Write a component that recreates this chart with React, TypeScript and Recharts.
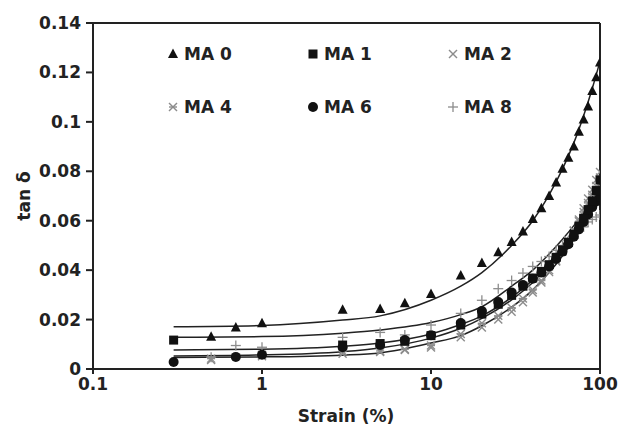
import React from "react";
import {
  ScatterChart,
  Scatter,
  XAxis,
  YAxis,
  ReferenceLine,
} from "recharts";

// measured points (strain %, tan delta)
const ma0Strain = [0.5, 0.7, 1, 3, 5, 7, 10, 15, 20, 25, 30, 35, 40, 45, 50, 55, 60, 65, 70, 75, 80, 85, 90, 95, 100];
const ma0Tan = [0.013, 0.0168, 0.0185, 0.024, 0.0243, 0.0266, 0.0303, 0.0378, 0.0429, 0.0472, 0.0514, 0.0556, 0.0607, 0.065, 0.07, 0.0755, 0.081, 0.0855, 0.09, 0.096, 0.101, 0.1062, 0.1125, 0.118, 0.124];

const ma1Strain = [0.3, 3, 5, 7, 10, 15, 20, 25, 30, 35, 40, 45, 50, 55, 60, 65, 70, 75, 80, 85, 90, 95, 100];
const ma1Tan = [0.0117, 0.0097, 0.0103, 0.0112, 0.0135, 0.0178, 0.0222, 0.0262, 0.0298, 0.0335, 0.0368, 0.0395, 0.0422, 0.0452, 0.0482, 0.0512, 0.0545, 0.0578, 0.061, 0.0645, 0.068, 0.0722, 0.0765];

const ma2Strain = [0.5, 1, 3, 5, 7, 10, 15, 20, 25, 30, 35, 40, 45, 50, 55, 60, 65, 70, 75, 80, 85, 90, 95, 100];
const ma2Tan = [0.0036, 0.0052, 0.0062, 0.0069, 0.0077, 0.0087, 0.0128, 0.0168, 0.02, 0.0232, 0.027, 0.031, 0.035, 0.0392, 0.0435, 0.0475, 0.052, 0.056, 0.0605, 0.065, 0.069, 0.0725, 0.0765, 0.0797];

const ma4Strain = [0.5, 1, 3, 5, 7, 10, 15, 20, 25, 30, 35, 40, 45, 50, 55, 60, 65, 70, 75, 80, 85, 90, 95, 100];
const ma4Tan = [0.0042, 0.0058, 0.0072, 0.0073, 0.008, 0.0095, 0.0142, 0.0185, 0.0215, 0.0248, 0.0285, 0.032, 0.0358, 0.04, 0.0438, 0.048, 0.052, 0.0558, 0.0598, 0.0635, 0.0672, 0.0705, 0.074, 0.0775];

const ma6Strain = [0.3, 0.7, 1, 3, 5, 7, 10, 15, 20, 25, 30, 35, 40, 45, 50, 55, 60, 65, 70, 75, 80, 85, 90, 95, 100];
const ma6Tan = [0.0028, 0.0049, 0.0058, 0.0088, 0.0097, 0.0117, 0.0137, 0.0186, 0.0235, 0.0271, 0.031, 0.034, 0.0365, 0.039, 0.0415, 0.0445, 0.0475, 0.0505, 0.0535, 0.0565, 0.0595, 0.0625, 0.0655, 0.0678, 0.0696];

const ma8Strain = [0.5, 0.7, 1, 3, 5, 7, 10, 15, 20, 25, 30, 35, 40, 45, 50, 55, 60, 65, 70, 75, 80, 85, 90, 95, 100];
const ma8Tan = [0.0048, 0.0095, 0.0088, 0.0128, 0.0148, 0.0138, 0.0178, 0.0225, 0.0278, 0.0325, 0.0358, 0.0388, 0.0415, 0.0435, 0.0455, 0.048, 0.05, 0.052, 0.0545, 0.0565, 0.0575, 0.0595, 0.0605, 0.0615, 0.0623];

// fitted curves
const fitStrain = [0.3, 1, 3, 5, 10, 15, 20, 30, 40, 50, 60, 70, 80, 90, 100];
const fit0 = [0.0171, 0.0176, 0.0198, 0.0215, 0.0278, 0.0335, 0.039, 0.05, 0.06, 0.0705, 0.081, 0.0915, 0.1025, 0.1135, 0.1245];
const fitA = [0.0128, 0.0131, 0.0145, 0.0158, 0.0188, 0.022, 0.0252, 0.0335, 0.04, 0.0465, 0.0525, 0.058, 0.0632, 0.068, 0.0725];
const fitB = [0.0077, 0.008, 0.0092, 0.0105, 0.0142, 0.018, 0.0215, 0.029, 0.036, 0.043, 0.05, 0.0565, 0.063, 0.0695, 0.076];
const fitC = [0.0053, 0.0057, 0.007, 0.0085, 0.0125, 0.0165, 0.0205, 0.028, 0.035, 0.042, 0.049, 0.0555, 0.062, 0.0685, 0.075];
const fitD = [0.0047, 0.0049, 0.0056, 0.0065, 0.0105, 0.0135, 0.0175, 0.025, 0.032, 0.039, 0.0458, 0.0525, 0.059, 0.0655, 0.0715];

const xTicks = [0.1, 1, 10, 100];
const yTicks = [0, 0.02, 0.04, 0.06, 0.08, 0.1, 0.12, 0.14];

const zip = (xs: number[], ys: number[]) => xs.map((x, i) => ({ x, y: ys[i] }));

const FONT = "'DejaVu Sans', Arial, sans-serif";
const INK = "#222";
const GRAY = "#8c8c8c";

const Tri = ({ cx, cy }: any) => (
  <polygon points={`${cx},${cy - 5.5} ${cx - 5},${cy + 4} ${cx + 5},${cy + 4}`} fill="#111" />
);
const Sq = ({ cx, cy }: any) => <rect x={cx - 4.5} y={cy - 4.5} width={9} height={9} fill="#111" />;
const Dot = ({ cx, cy }: any) => <circle cx={cx} cy={cy} r={5} fill="#111" />;
const Cross = ({ cx, cy }: any) => (
  <g stroke={GRAY} strokeWidth={1.4}>
    <line x1={cx - 4} y1={cy - 4} x2={cx + 4} y2={cy + 4} />
    <line x1={cx - 4} y1={cy + 4} x2={cx + 4} y2={cy - 4} />
  </g>
);
const Star = ({ cx, cy }: any) => (
  <g stroke={GRAY} strokeWidth={1.4}>
    <line x1={cx - 4} y1={cy - 4} x2={cx + 4} y2={cy + 4} />
    <line x1={cx - 4} y1={cy + 4} x2={cx + 4} y2={cy - 4} />
    <line x1={cx - 4} y1={cy} x2={cx + 4} y2={cy} />
  </g>
);
const Plus = ({ cx, cy }: any) => (
  <g stroke={GRAY} strokeWidth={1.3}>
    <line x1={cx - 5} y1={cy} x2={cx + 5} y2={cy} />
    <line x1={cx} y1={cy - 5} x2={cx} y2={cy + 5} />
  </g>
);
const NoDot = () => <g />;

const legendItems = [
  { name: "MA 0", Icon: Tri, x: 173, y: 54 },
  { name: "MA 1", Icon: Sq, x: 313, y: 54 },
  { name: "MA 2", Icon: Cross, x: 453, y: 54 },
  { name: "MA 4", Icon: Star, x: 173, y: 107 },
  { name: "MA 6", Icon: Dot, x: 313, y: 107 },
  { name: "MA 8", Icon: Plus, x: 453, y: 107 },
];

const fits = [fit0, fitA, fitB, fitC, fitD];

export default function App() {
  return (
    <div style={{ position: "absolute", left: 0, top: 0, width: 620, height: 429, background: "#fff" }}>
      <ScatterChart width={620} height={429} margin={{ top: 23, right: 20, bottom: 14, left: 33 }}>
        <XAxis
          type="number"
          dataKey="x"
          scale="log"
          domain={[0.1, 100]}
          allowDataOverflow
          ticks={xTicks}
          tickFormatter={(v) => String(v)}
          stroke={INK}
          strokeWidth={2}
          tickSize={5}
          tickMargin={4}
          height={46}
          tick={{ fill: INK, fontSize: 17, fontWeight: 700, fontFamily: FONT }}
          label={{
            content: () => (
              <text x={346} y={422} textAnchor="middle" fill={INK} fontSize={17} fontWeight={700} fontFamily={FONT}>
                Strain (%)
              </text>
            ),
          }}
        />
        <YAxis
          type="number"
          dataKey="y"
          domain={[0, 0.14]}
          allowDataOverflow
          ticks={yTicks}
          tickFormatter={(v) => String(v)}
          stroke={INK}
          strokeWidth={2}
          tickSize={7}
          tickMargin={5}
          width={60}
          tick={{ fill: INK, fontSize: 17, fontWeight: 700, fontFamily: FONT }}
          label={{
            content: () => (
              <text
                x={24}
                y={196}
                transform="rotate(-90 24 196)"
                textAnchor="middle"
                dominantBaseline="central"
                fill={INK}
                fontSize={17}
                fontWeight={700}
                fontFamily={FONT}
              >
                tan δ
              </text>
            ),
          }}
        />
        <ReferenceLine y={0.14} stroke={INK} strokeWidth={2} />
        <ReferenceLine x={100} stroke={INK} strokeWidth={2} />
        {fits.map((f, i) => (
          <Scatter
            key={"fit" + i}
            data={zip(fitStrain, f)}
            line={{ stroke: "#222", strokeWidth: 1.5 }}
            lineType="joint"
            lineJointType="monotoneX"
            shape={NoDot}
            isAnimationActive={false}
          />
        ))}
        <Scatter data={zip(ma2Strain, ma2Tan)} shape={Cross} isAnimationActive={false} />
        <Scatter data={zip(ma4Strain, ma4Tan)} shape={Star} isAnimationActive={false} />
        <Scatter data={zip(ma8Strain, ma8Tan)} shape={Plus} isAnimationActive={false} />
        <Scatter data={zip(ma6Strain, ma6Tan)} shape={Dot} isAnimationActive={false} />
        <Scatter data={zip(ma1Strain, ma1Tan)} shape={Sq} isAnimationActive={false} />
        <Scatter data={zip(ma0Strain, ma0Tan)} shape={Tri} isAnimationActive={false} />
      </ScatterChart>
      <svg width={620} height={429} style={{ position: "absolute", left: 0, top: 0, pointerEvents: "none" }}>
        {legendItems.map(({ name, Icon, x, y }) => (
          <g key={name}>
            <Icon cx={x} cy={y} />
            <text x={x + 11} y={y} dominantBaseline="central" fill={INK} fontSize={17} fontWeight={700} fontFamily={FONT}>
              {name}
            </text>
          </g>
        ))}
      </svg>
    </div>
  );
}
